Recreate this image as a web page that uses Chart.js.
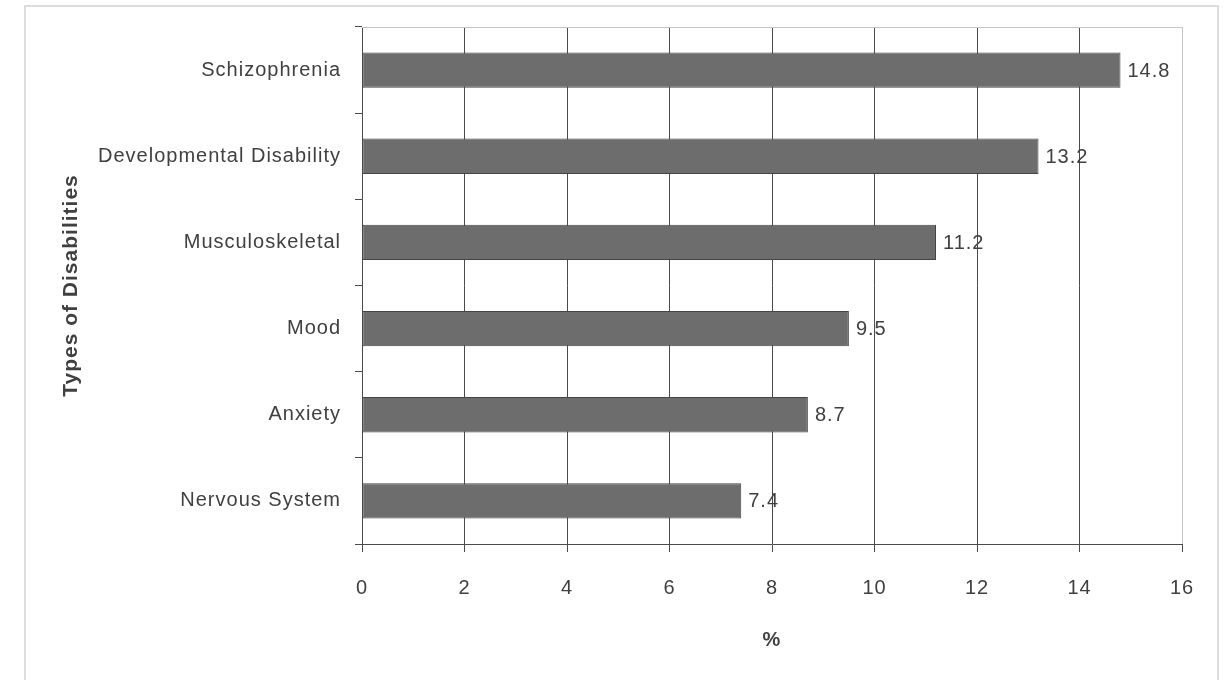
<!DOCTYPE html>
<html>
<head>
<meta charset="utf-8">
<script src="https://cdn.jsdelivr.net/npm/chart.js@4.4.1/dist/chart.umd.min.js"></script>
<style>
  html, body { margin: 0; padding: 0; background: #ffffff; }
  #wrap { position: relative; width: 1229px; height: 680px; }
</style>
</head>
<body>
<div id="wrap"><canvas id="chart" width="1229" height="680"></canvas></div>
<script>
// Disability categories, listed top to bottom
const categories = [
  'Schizophrenia',
  'Developmental Disability',
  'Musculoskeletal',
  'Mood',
  'Anxiety',
  'Nervous System'
];
// Share of each disability type, in percent
const percentages = [14.8, 13.2, 11.2, 9.5, 8.7, 7.4];
// Horizontal axis range and step
const xTicks = [0, 2, 4, 6, 8, 10, 12, 14, 16];
const xAxisTitle = '%';
const yAxisTitle = 'Types of Disabilities';

const FONT_FAMILY = '"Liberation Sans", Arial, sans-serif';
const TEXT_COLOR = '#404040';
const LINE_COLOR = '#4a4a4a';
const FRAME_COLOR = '#c4c4c4';

// Slightly spaced lettering for every text drawn on the canvas
const letterSpacingPlugin = {
  id: 'letterSpacing',
  beforeUpdate(chart) { chart.ctx.letterSpacing = '1px'; },
  beforeDraw(chart) { chart.ctx.letterSpacing = '1px'; }
};

// Light outer frame plus the top edge of the plot area
const framePlugin = {
  id: 'frame',
  beforeDraw(chart) {
    const ctx = chart.ctx;
    ctx.save();
    ctx.strokeStyle = '#dcdcdc';
    ctx.lineWidth = 2;
    ctx.strokeRect(25, 6, 1193, 720);
    ctx.restore();
  },
  beforeDatasetsDraw(chart) {
    const {ctx, chartArea} = chart;
    ctx.save();
    ctx.strokeStyle = FRAME_COLOR;
    ctx.lineWidth = 1;
    ctx.beginPath();
    ctx.moveTo(chartArea.left, chartArea.top + 0.5);
    ctx.lineTo(chartArea.right, chartArea.top + 0.5);
    ctx.stroke();
    ctx.restore();
  }
};

// Value written just past the end of each bar
const valueLabelPlugin = {
  id: 'valueLabels',
  afterDatasetsDraw(chart) {
    const ctx = chart.ctx;
    const meta = chart.getDatasetMeta(0);
    ctx.save();
    ctx.letterSpacing = '1px';
    ctx.font = '20px ' + FONT_FAMILY;
    ctx.fillStyle = TEXT_COLOR;
    ctx.textAlign = 'left';
    ctx.textBaseline = 'middle';
    meta.data.forEach((bar, i) => {
      const v = chart.data.datasets[0].data[i];
      ctx.fillText(v.toFixed(1), bar.x + 7, bar.y + 1);
    });
    ctx.restore();
  }
};

new Chart(document.getElementById('chart'), {
  type: 'bar',
  data: {
    labels: categories,
    datasets: [{
      data: percentages,
      backgroundColor: '#6d6d6d',
      borderColor: '#454545',
      borderWidth: 1,
      borderSkipped: false,
      categoryPercentage: 1,
      barPercentage: 0.41
    }]
  },
  options: {
    indexAxis: 'y',
    responsive: false,
    animation: false,
    layout: { padding: { top: 27, right: 47, bottom: 0, left: 0 } },
    plugins: {
      legend: { display: false },
      tooltip: { enabled: false }
    },
    scales: {
      x: {
        type: 'linear',
        min: xTicks[0],
        max: xTicks[xTicks.length - 1],
        afterBuildTicks(scale) {
          scale.ticks = xTicks.map(v => ({ value: v }));
        },
        afterFit(scale) { scale.height = 136; },
        ticks: {
          color: TEXT_COLOR,
          padding: 24,
          maxRotation: 0,
          font: { family: FONT_FAMILY, size: 20 }
        },
        grid: {
          color: (c) => (c.tick && c.tick.value === xTicks[xTicks.length - 1]) ? FRAME_COLOR : LINE_COLOR,
          tickColor: LINE_COLOR,
          tickLength: 8,
          lineWidth: 1
        },
        border: { display: true, color: LINE_COLOR, width: 1 },
        title: {
          display: true,
          text: xAxisTitle,
          color: TEXT_COLOR,
          font: { family: FONT_FAMILY, size: 20, weight: 'bold' },
          padding: { top: 0, bottom: 28 }
        }
      },
      y: {
        type: 'category',
        afterFit(scale) { scale.width = 362; },
        ticks: {
          color: TEXT_COLOR,
          padding: 14,
          font: { family: FONT_FAMILY, size: 20 }
        },
        grid: {
          drawOnChartArea: false,
          drawTicks: true,
          tickLength: 7,
          color: LINE_COLOR,
          offset: true
        },
        border: { display: true, color: LINE_COLOR, width: 1 },
        title: {
          display: true,
          text: yAxisTitle,
          color: TEXT_COLOR,
          font: { family: FONT_FAMILY, size: 21, weight: 'bold' },
          padding: { top: 59, bottom: 0 }
        }
      }
    }
  },
  plugins: [letterSpacingPlugin, framePlugin, valueLabelPlugin]
});
</script>
</body>
</html>
